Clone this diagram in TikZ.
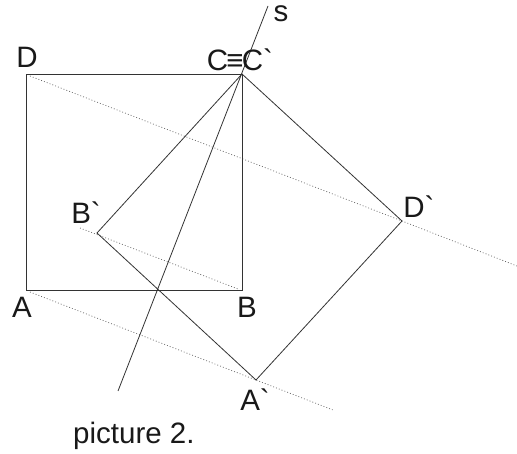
\documentclass[tikz,border=0pt]{standalone}
\usepackage{fontspec}
\setmainfont{Liberation Sans}[Ligatures=TeXOff]
\begin{document}
\begin{tikzpicture}[x=1pt,y=-1pt,
  edge/.style={draw=black!80,line width=0.8pt},
  trace/.style={draw=black!60,line width=0.7pt,dash pattern=on 0.9pt off 2.1pt},
  lbl/.style={inner sep=0pt,font=\fontsize{29.5}{32}\selectfont,text=black!90}]
\useasboundingbox[fill=white] (0,0) rectangle (517,454);
% vertices
\coordinate (A) at (26,290);
\coordinate (B) at (242,290);
\coordinate (C) at (242,74);
\coordinate (D) at (26,74);
\coordinate (Bp) at (97,233);
\coordinate (Dp) at (402,221);
\coordinate (Ap) at (256,380);
\coordinate (s1) at (118,391);
\coordinate (s2) at (268,6);
% dotted trace ends
\coordinate (d0) at (30,76);
\coordinate (d1) at (517,266);
\coordinate (a0) at (30,292);
\coordinate (a1) at (333,410);
\coordinate (b0) at (80,228);
\coordinate (b1) at (238,289);
% dotted lines
\draw[trace] (d0) -- (Dp) -- (d1);
\draw[trace] (a0) -- (Ap) -- (a1);
\draw[trace] (b0) -- (b1);
% square ABCD
\draw[edge] (A) -- (B) -- (C) -- (D) -- cycle;
% rotated square
\draw[edge] (C) -- (Dp) -- (Ap) -- (Bp) -- cycle;
% axis s
\draw[edge] (s1) -- (s2);
% labels
\node[lbl] (lD) at (27,57) {D};
\node[lbl] (lC) at (240,60) {C\kern-1.8pt≡\kern-1.8ptC`};
\node[lbl] (ls) at (281,14) {s};
\node[lbl] (lBp) at (86,213) {B`};
\node[lbl] (lDp) at (419,207) {D`};
\node[lbl] (lA) at (22,307) {A};
\node[lbl] (lB) at (247,307) {B};
\node[lbl] (lAp) at (255,400) {A`};
\node[lbl,anchor=base west] (cap) at (73,443) {picture 2.};
\end{tikzpicture}
\end{document}
